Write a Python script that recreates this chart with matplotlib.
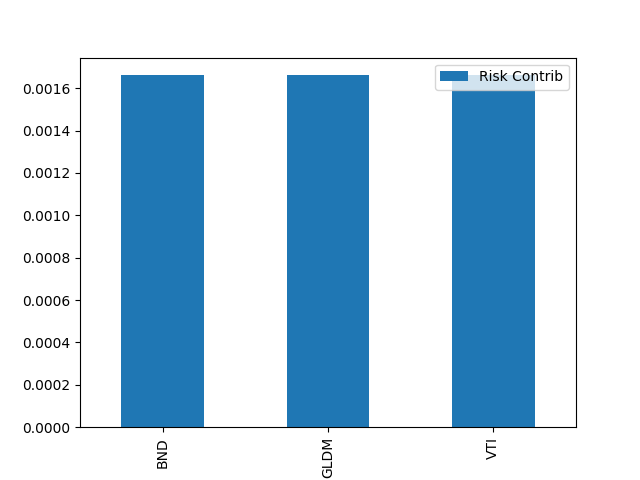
import matplotlib
matplotlib.use("Agg")
import matplotlib.pyplot as plt
import pandas as pd

tickers = ["BND", "GLDM", "VTI"]
risk_contrib = [0.001661, 0.001661, 0.001661]

df = pd.DataFrame({"Risk Contrib": risk_contrib}, index=tickers)
fig, ax = plt.subplots(figsize=(6.4, 4.8), dpi=100)
df.plot(kind="bar", ax=ax)
fig.savefig("out.png")
